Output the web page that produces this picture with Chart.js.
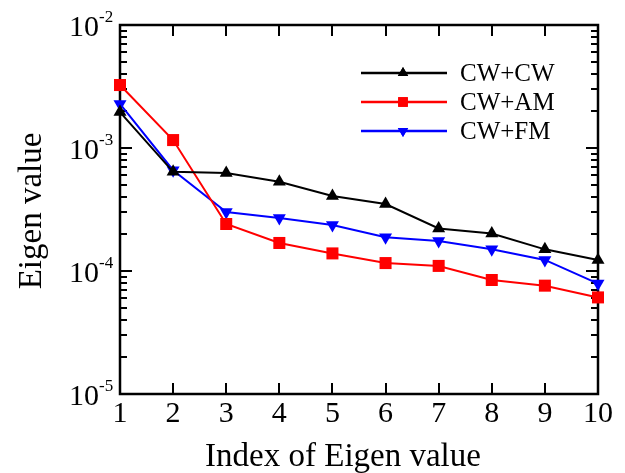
<!DOCTYPE html>
<html>
<head>
<meta charset="utf-8">
<script src="https://cdn.jsdelivr.net/npm/chart.js@4.4.0/dist/chart.umd.min.js"></script>
<style>
html,body{margin:0;padding:0;background:#fff;}
canvas{display:block;}
</style>
</head>
<body>
<canvas id="c" width="625" height="473"></canvas>
<script>
// ---- data ----
const indices = [1, 2, 3, 4, 5, 6, 7, 8, 9, 10];
const cwcw = [1.96e-3, 6.4e-4, 6.26e-4, 5.32e-4, 4.07e-4, 3.5e-4, 2.22e-4, 2.02e-4, 1.5e-4, 1.23e-4];
const cwam = [3.25e-3, 1.16e-3, 2.41e-4, 1.69e-4, 1.39e-4, 1.16e-4, 1.10e-4, 8.45e-5, 7.6e-5, 6.1e-5];
const cwfm = [2.28e-3, 6.6e-4, 3.02e-4, 2.70e-4, 2.37e-4, 1.88e-4, 1.75e-4, 1.5e-4, 1.23e-4, 7.9e-5];
const seriesNames = ['CW+CW', 'CW+AM', 'CW+FM'];
const xTickLabels = ['1', '2', '3', '4', '5', '6', '7', '8', '9', '10'];
const yTickValues = [1e-5, 1e-4, 1e-3, 1e-2];
const yTickExponents = ['-5', '-4', '-3', '-2'];
const xTitle = 'Index of Eigen value';
const yTitle = 'Eigen value';

const FONT = '"Liberation Serif", "Times New Roman", serif';

function pts(vals) { return indices.map((x, i) => ({x: x, y: vals[i]})); }

const framePlugin = {
  id: 'frame',
  beforeDatasetsDraw(chart) {
    const ctx = chart.ctx, a = chart.chartArea;
    const xs = chart.scales.x, ys = chart.scales.y;
    ctx.save();
    ctx.strokeStyle = '#000';
    ctx.lineWidth = 2;
    ctx.lineCap = 'butt';
    ctx.beginPath();
    indices.forEach(v => {
      const px = Math.round(xs.getPixelForValue(v));
      ctx.moveTo(px, a.bottom); ctx.lineTo(px, a.bottom - 11);
      ctx.moveTo(px, a.top); ctx.lineTo(px, a.top + 11);
    });
    for (let e = -5; e < -2; e++) {
      for (let m = 1; m <= 9; m++) {
        const v = m * Math.pow(10, e);
        const py = Math.round(ys.getPixelForValue(v));
        const len = (m === 1) ? 12 : 7;
        ctx.moveTo(a.left, py); ctx.lineTo(a.left + len, py);
        ctx.moveTo(a.right, py); ctx.lineTo(a.right - len, py);
      }
    }
    ctx.stroke();
    ctx.lineWidth = 2.5;
    ctx.strokeRect(a.left, a.top, a.right - a.left, a.bottom - a.top);
    ctx.restore();
  },
  afterDraw(chart) {
    const ctx = chart.ctx, a = chart.chartArea;
    const xs = chart.scales.x, ys = chart.scales.y;
    ctx.save();
    ctx.fillStyle = '#000';
    ctx.font = '30px ' + FONT;
    ctx.textAlign = 'center';
    ctx.textBaseline = 'alphabetic';
    indices.forEach((v, i) => {
      ctx.fillText(xTickLabels[i], xs.getPixelForValue(v), a.bottom + 28);
    });
    yTickValues.forEach((v, i) => {
      const py = ys.getPixelForValue(v);
      ctx.font = '30px ' + FONT;
      ctx.textAlign = 'right';
      ctx.fillText('10', 99, py + 11);
      ctx.font = '17px ' + FONT;
      ctx.textAlign = 'left';
      ctx.fillText(yTickExponents[i], 99, py - 3);
    });
    ctx.font = '33px ' + FONT;
    ctx.textAlign = 'center';
    ctx.fillText(xTitle, 343, 466);
    ctx.save();
    ctx.translate(41, 211);
    ctx.rotate(-Math.PI / 2);
    ctx.fillText(yTitle, 0, 0);
    ctx.restore();
    const rows = [73, 102, 131];
    chart.data.datasets.forEach((ds, i) => {
      const y = rows[i];
      ctx.strokeStyle = ds.borderColor;
      ctx.lineWidth = 2.5;
      ctx.beginPath();
      ctx.moveTo(361, y); ctx.lineTo(447, y);
      ctx.stroke();
      ctx.fillStyle = ds.pointBackgroundColor;
      Chart.helpers.drawPoint(ctx, {pointStyle: ds.pointStyle, radius: ds.pointRadius * 0.8, rotation: ds.pointRotation || 0, borderWidth: 0}, 403, y);
      ctx.fill();
      ctx.fillStyle = '#000';
      ctx.font = '25px ' + FONT;
      ctx.textAlign = 'left';
      ctx.textBaseline = 'middle';
      ctx.fillText(ds.label, 460, y + 1);
      ctx.textBaseline = 'alphabetic';
    });
    ctx.restore();
  }
};

new Chart(document.getElementById('c'), {
  type: 'line',
  data: {
    datasets: [
      {label: seriesNames[0], data: pts(cwcw), borderColor: '#000000', backgroundColor: '#000000',
       pointBackgroundColor: '#000000', pointBorderColor: '#000000', pointStyle: 'triangle', pointRadius: 7.5, pointBorderWidth: 0, borderWidth: 2, clip: false},
      {label: seriesNames[1], data: pts(cwam), borderColor: '#ff0000', backgroundColor: '#ff0000',
       pointBackgroundColor: '#ff0000', pointBorderColor: '#ff0000', pointStyle: 'rect', pointRadius: 8.5, pointBorderWidth: 0, borderWidth: 2, clip: false},
      {label: seriesNames[2], data: pts(cwfm), borderColor: '#0000ff', backgroundColor: '#0000ff',
       pointBackgroundColor: '#0000ff', pointBorderColor: '#0000ff', pointStyle: 'triangle', pointRotation: 180, pointRadius: 7.5, pointBorderWidth: 0, borderWidth: 2, clip: false}
    ]
  },
  options: {
    responsive: false,
    animation: false,
    events: [],
    layout: {padding: {left: 120, right: 27, top: 25, bottom: 79}},
    plugins: {legend: {display: false}, tooltip: {enabled: false}},
    scales: {
      x: {type: 'linear', min: 1, max: 10, display: false,
          grid: {display: false}, border: {display: false}, ticks: {display: false}},
      y: {type: 'logarithmic', min: 1e-5, max: 1e-2, display: false,
          grid: {display: false}, border: {display: false}, ticks: {display: false}}
    }
  },
  plugins: [framePlugin]
});
</script>
</body>
</html>
